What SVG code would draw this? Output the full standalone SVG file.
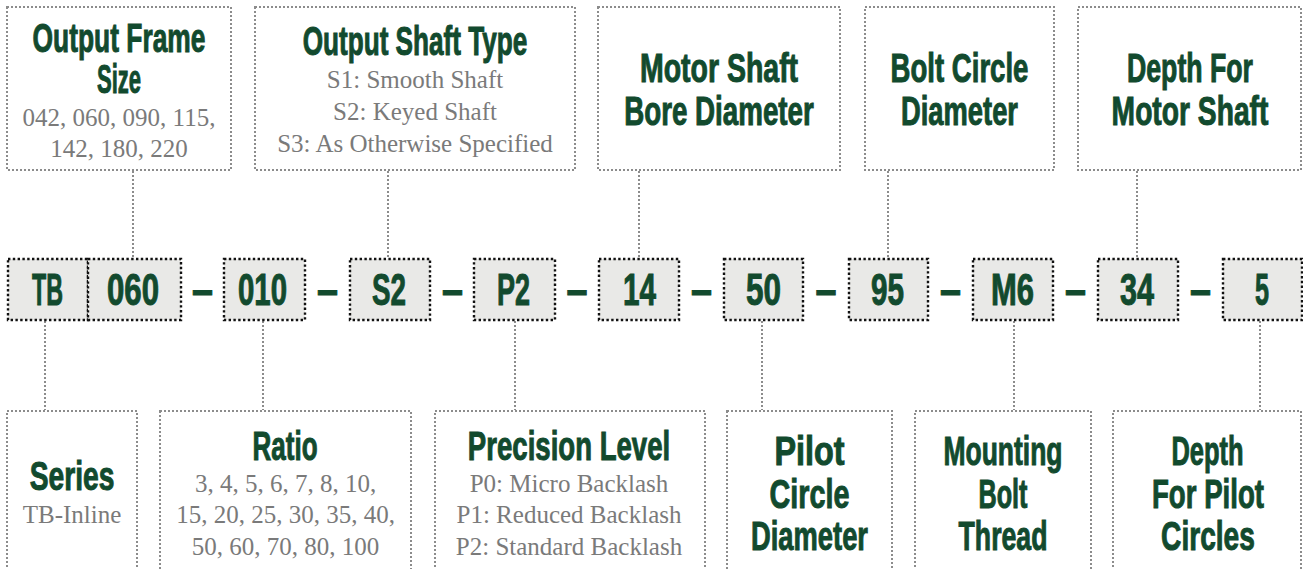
<svg xmlns="http://www.w3.org/2000/svg" width="1303" height="569" viewBox="0 0 1303 569">
<style>
.box{fill:#ffffff;stroke:#8c8c8c;stroke-width:2;stroke-dasharray:2 2}
.code{fill:#e9e9e7;stroke:#111111;stroke-width:2.4;stroke-dasharray:2.4 2.4}
.conn{stroke:#8c8c8c;stroke-width:2;stroke-dasharray:2 2;fill:none}
.t{font-family:"Liberation Sans",Arial,sans-serif;font-weight:bold;font-size:40px;fill:#124a2e;stroke:#124a2e;stroke-width:1;text-anchor:middle}
.c{font-family:"Liberation Sans",Arial,sans-serif;font-weight:bold;font-size:44px;fill:#124a2e;stroke:#124a2e;stroke-width:1;text-anchor:middle}
.g{font-family:"Liberation Serif","Times New Roman",serif;font-size:25px;fill:#7a7a7a;text-anchor:middle}
</style>
<rect width="1303" height="569" fill="#ffffff"/>
<g id="connectors">
<line class="conn" x1="133" y1="171" x2="133" y2="258"/>
<line class="conn" x1="388" y1="171" x2="388" y2="258"/>
<line class="conn" x1="639" y1="171" x2="639" y2="258"/>
<line class="conn" x1="888" y1="171" x2="888" y2="258"/>
<line class="conn" x1="1137" y1="171" x2="1137" y2="258"/>
<line class="conn" x1="45" y1="321" x2="45" y2="410"/>
<line class="conn" x1="263" y1="321" x2="263" y2="410"/>
<line class="conn" x1="515" y1="321" x2="515" y2="410"/>
<line class="conn" x1="762" y1="321" x2="762" y2="410"/>
<line class="conn" x1="1014" y1="321" x2="1014" y2="410"/>
<line class="conn" x1="1260" y1="321" x2="1260" y2="410"/>
</g>
<g id="top-frame-size">
<rect class="box" x="7" y="7" width="224" height="163"/>
<text class="t" transform="translate(119,52) scale(0.7,1)" textLength="247" lengthAdjust="spacingAndGlyphs">Output Frame</text>
<text class="t" transform="translate(119,93) scale(0.7,1)" textLength="63" lengthAdjust="spacingAndGlyphs">Size</text>
<text class="g" x="119" y="126">042, 060, 090, 115,</text>
<text class="g" x="119" y="157">142, 180, 220</text>
</g>
<g id="top-shaft-type">
<rect class="box" x="255" y="7" width="320" height="163"/>
<text class="t" transform="translate(415,55) scale(0.7,1)" textLength="321" lengthAdjust="spacingAndGlyphs">Output Shaft Type</text>
<text class="g" x="415" y="88">S1: Smooth Shaft</text>
<text class="g" x="415" y="120">S2: Keyed Shaft</text>
<text class="g" x="415" y="152">S3: As Otherwise Specified</text>
</g>
<g id="top-bore">
<rect class="box" x="598" y="7" width="242" height="163"/>
<text class="t" transform="translate(719,82) scale(0.7,1)" textLength="226" lengthAdjust="spacingAndGlyphs">Motor Shaft</text>
<text class="t" transform="translate(719,125) scale(0.7,1)" textLength="271" lengthAdjust="spacingAndGlyphs">Bore Diameter</text>
</g>
<g id="top-bolt-circle">
<rect class="box" x="865" y="7" width="189" height="163"/>
<text class="t" transform="translate(959.5,82) scale(0.7,1)" textLength="197" lengthAdjust="spacingAndGlyphs">Bolt Circle</text>
<text class="t" transform="translate(959.5,125) scale(0.7,1)" textLength="167" lengthAdjust="spacingAndGlyphs">Diameter</text>
</g>
<g id="top-depth-motor">
<rect class="box" x="1078" y="7" width="223" height="163"/>
<text class="t" transform="translate(1190,82) scale(0.7,1)" textLength="180" lengthAdjust="spacingAndGlyphs">Depth For</text>
<text class="t" transform="translate(1190,125) scale(0.7,1)" textLength="224" lengthAdjust="spacingAndGlyphs">Motor Shaft</text>
</g>
<g id="code-row">
<rect class="code" x="8" y="259" width="80" height="61"/>
<rect class="code" x="88" y="259" width="93" height="61"/>
<rect class="code" x="224" y="259" width="81" height="61"/>
<rect class="code" x="350" y="259" width="80" height="61"/>
<rect class="code" x="474" y="259" width="81" height="61"/>
<rect class="code" x="599" y="259" width="80" height="61"/>
<rect class="code" x="724" y="259" width="79" height="61"/>
<rect class="code" x="849" y="259" width="79" height="61"/>
<rect class="code" x="973" y="259" width="80" height="61"/>
<rect class="code" x="1098" y="259" width="80" height="61"/>
<rect class="code" x="1223" y="259" width="79" height="61"/>
<text class="c" x="47.5" y="305" textLength="31" lengthAdjust="spacingAndGlyphs">TB</text>
<text class="c" x="133" y="305" textLength="52" lengthAdjust="spacingAndGlyphs">060</text>
<text class="c" x="262.5" y="305" textLength="49" lengthAdjust="spacingAndGlyphs">010</text>
<text class="c" x="389" y="305" textLength="34" lengthAdjust="spacingAndGlyphs">S2</text>
<text class="c" x="513.5" y="305" textLength="33" lengthAdjust="spacingAndGlyphs">P2</text>
<text class="c" x="639.5" y="305" textLength="33" lengthAdjust="spacingAndGlyphs">14</text>
<text class="c" x="763.5" y="305" textLength="35" lengthAdjust="spacingAndGlyphs">50</text>
<text class="c" x="887.5" y="305" textLength="33" lengthAdjust="spacingAndGlyphs">95</text>
<text class="c" x="1012.5" y="305" textLength="43" lengthAdjust="spacingAndGlyphs">M6</text>
<text class="c" x="1137" y="305" textLength="34" lengthAdjust="spacingAndGlyphs">34</text>
<text class="c" x="1262" y="305" textLength="14" lengthAdjust="spacingAndGlyphs">5</text>
<text class="c" x="202.5" y="305" textLength="21" lengthAdjust="spacingAndGlyphs">–</text>
<text class="c" x="327.5" y="305" textLength="21" lengthAdjust="spacingAndGlyphs">–</text>
<text class="c" x="452.5" y="305" textLength="21" lengthAdjust="spacingAndGlyphs">–</text>
<text class="c" x="577" y="305" textLength="21" lengthAdjust="spacingAndGlyphs">–</text>
<text class="c" x="701.5" y="305" textLength="21" lengthAdjust="spacingAndGlyphs">–</text>
<text class="c" x="826" y="305" textLength="21" lengthAdjust="spacingAndGlyphs">–</text>
<text class="c" x="950.5" y="305" textLength="21" lengthAdjust="spacingAndGlyphs">–</text>
<text class="c" x="1075.5" y="305" textLength="21" lengthAdjust="spacingAndGlyphs">–</text>
<text class="c" x="1200.5" y="305" textLength="21" lengthAdjust="spacingAndGlyphs">–</text>
</g>
<g id="bottom-series">
<rect class="box" x="7" y="411" width="130" height="170"/>
<text class="t" transform="translate(72,490) scale(0.7,1)" textLength="121" lengthAdjust="spacingAndGlyphs">Series</text>
<text class="g" x="72" y="523">TB-Inline</text>
</g>
<g id="bottom-ratio">
<rect class="box" x="160" y="411" width="251" height="170"/>
<text class="t" transform="translate(285,460) scale(0.7,1)" textLength="93" lengthAdjust="spacingAndGlyphs">Ratio</text>
<text class="g" x="285.5" y="492">3, 4, 5, 6, 7, 8, 10,</text>
<text class="g" x="285.5" y="523">15, 20, 25, 30, 35, 40,</text>
<text class="g" x="285.5" y="555">50, 60, 70, 80, 100</text>
</g>
<g id="bottom-precision">
<rect class="box" x="435" y="411" width="270" height="170"/>
<text class="t" transform="translate(569,460) scale(0.7,1)" textLength="289" lengthAdjust="spacingAndGlyphs">Precision Level</text>
<text class="g" x="569" y="492">P0: Micro Backlash</text>
<text class="g" x="569" y="523">P1: Reduced Backlash</text>
<text class="g" x="569" y="555">P2: Standard Backlash</text>
</g>
<g id="bottom-pilot">
<rect class="box" x="727" y="411" width="165" height="170"/>
<text class="t" transform="translate(809.5,465) scale(0.7,1)" textLength="100" lengthAdjust="spacingAndGlyphs">Pilot</text>
<text class="t" transform="translate(809.5,508) scale(0.7,1)" textLength="114" lengthAdjust="spacingAndGlyphs">Circle</text>
<text class="t" transform="translate(809.5,550) scale(0.7,1)" textLength="167" lengthAdjust="spacingAndGlyphs">Diameter</text>
</g>
<g id="bottom-mounting">
<rect class="box" x="915" y="411" width="176" height="170"/>
<text class="t" transform="translate(1003,465) scale(0.7,1)" textLength="170" lengthAdjust="spacingAndGlyphs">Mounting</text>
<text class="t" transform="translate(1003,508) scale(0.7,1)" textLength="70" lengthAdjust="spacingAndGlyphs">Bolt</text>
<text class="t" transform="translate(1003,550) scale(0.7,1)" textLength="127" lengthAdjust="spacingAndGlyphs">Thread</text>
</g>
<g id="bottom-depth-pilot">
<rect class="box" x="1113" y="411" width="188" height="170"/>
<text class="t" transform="translate(1207.5,465) scale(0.7,1)" textLength="103" lengthAdjust="spacingAndGlyphs">Depth</text>
<text class="t" transform="translate(1208,508) scale(0.7,1)" textLength="160" lengthAdjust="spacingAndGlyphs">For Pilot</text>
<text class="t" transform="translate(1208,550) scale(0.7,1)" textLength="134" lengthAdjust="spacingAndGlyphs">Circles</text>
</g>
</svg>
